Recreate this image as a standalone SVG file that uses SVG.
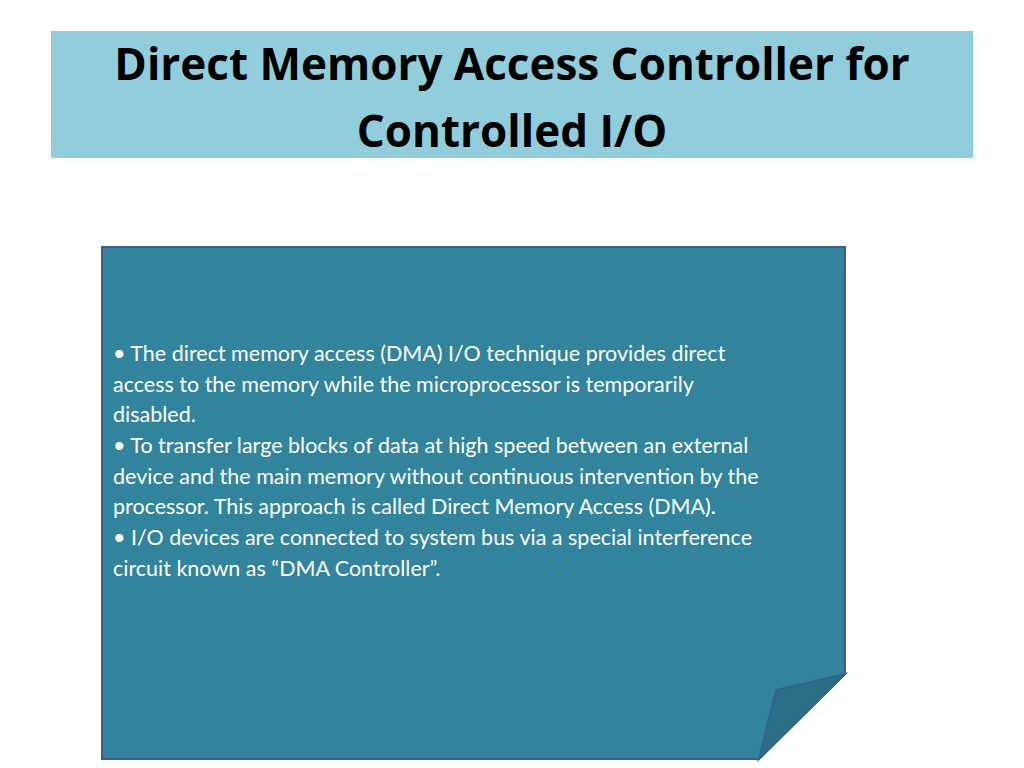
<svg xmlns="http://www.w3.org/2000/svg" width="1024" height="768" viewBox="0 0 1024 768">
<style>
.t{font-family:Lato,"Open Sans",sans-serif;font-size:21.5px;fill:#ffffff}
.h{font-family:"Open Sans",Lato,sans-serif;font-weight:bold;font-size:44px;fill:#000000;text-anchor:middle}
</style>
<rect width="1024" height="768" fill="#ffffff"/>
<g id="title">
<rect x="51" y="31" width="922" height="127" fill="#92cddc"/>
<text class="h" x="512" y="80">Direct Memory Access Controller for</text>
<text class="h" x="512" y="147">Controlled I/O</text>
</g>
<g id="note">
<path d="M102,247 H845 V674 L759,759 H102 Z" fill="#31849b" stroke="#3d5d8f" stroke-width="2"/>
<path d="M759,759 L776,690 L845,674 Z" fill="#2a6f85" stroke="#3d5d8f" stroke-width="2"/>
<text class="t" x="113" y="361">• The direct memory access (DMA) I/O technique provides direct</text>
<text class="t" x="113" y="392">access to the memory while the microprocessor is temporarily</text>
<text class="t" x="113" y="422">disabled.</text>
<text class="t" x="113" y="453">• To transfer large blocks of data at high speed between an external</text>
<text class="t" x="113" y="484">device and the main memory without continuous intervention by the</text>
<text class="t" x="113" y="514">processor. This approach is called Direct Memory Access (DMA).</text>
<text class="t" x="113" y="545">• I/O devices are connected to system bus via a special interference</text>
<text class="t" x="113" y="576">circuit known as “DMA Controller”.</text>
</g>
</svg>
